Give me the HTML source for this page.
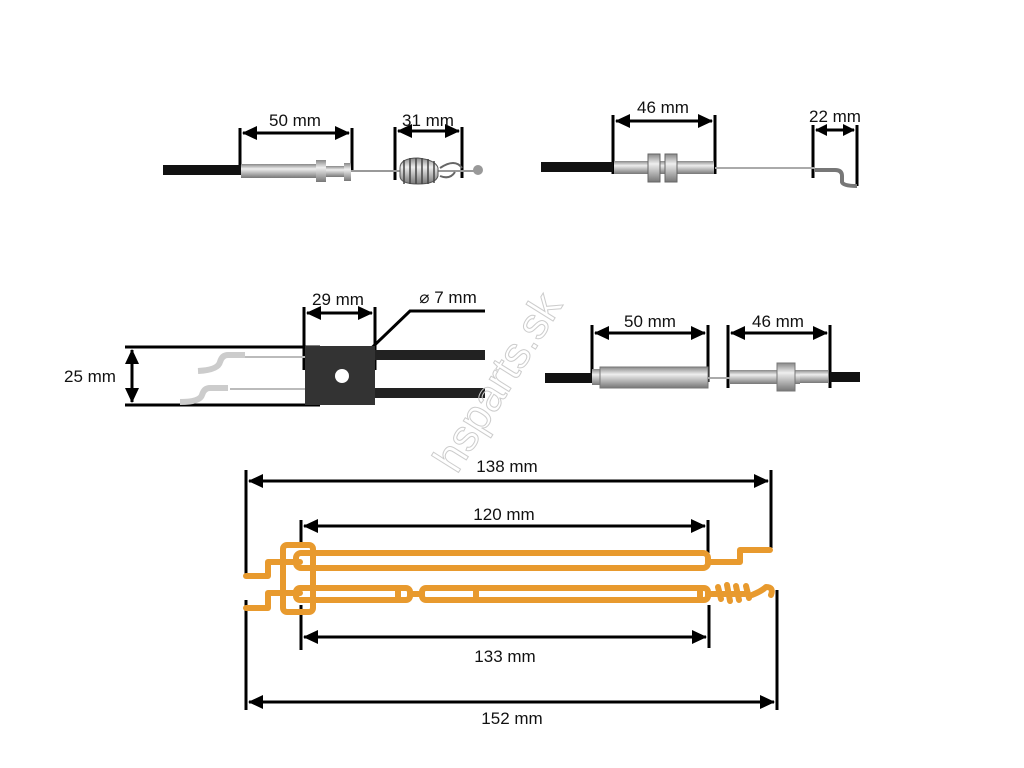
<!DOCTYPE html>
<html><head><meta charset="utf-8"><style>html,body{margin:0;padding:0;background:#fff}svg{display:block}text{font-family:"Liberation Sans",sans-serif;font-size:17px;fill:#111}</style></head>
<body>
<svg width="1024" height="768" viewBox="0 0 1024 768" xmlns="http://www.w3.org/2000/svg">
<defs>
<linearGradient id="m" x1="0" y1="0" x2="0" y2="1"><stop offset="0" stop-color="#888"/><stop offset=".35" stop-color="#eee"/><stop offset="1" stop-color="#777"/></linearGradient>
</defs>
<g stroke="#000" stroke-width="3" fill="none">
<path d="M240,128V172M352,128V172M395,127V180M462,127V178"/>
<path d="M243,133H349M398,131H459"/>
<path d="M613,115V174M715,115V174M813,125V178M857,125V186"/>
<path d="M616,121H712M816,130H854"/>
<path d="M125,347H320M125,405H320"/>
<path d="M132,350V402"/>
<path d="M304,307V370M375,307V370"/>
<path d="M307,313H372"/>
<path d="M485,311H410L356,363"/>
<path d="M592,325V382M708,325V382M728,325V388M830,325V388"/>
<path d="M595,333H705M731,333H827"/>
<path d="M246,470V578M771,470V548M246,600V710M777,590V710M301,520V548M708,520V553M301,605V650M709,605V648"/>
<path d="M249,481H768M304,526H705M304,637H706M249,702H774"/>
</g>
<g fill="#000">
<path d="M242,133l15,-7v14z M350,133l-15,-7v14z"/>
<path d="M397,131l15,-7v14z M460,131l-15,-7v14z"/>
<path d="M615,121l15,-7v14z M713,121l-15,-7v14z"/>
<path d="M815,130l12,-6v12z M855,130l-12,-6v12z"/>
<path d="M132,349l-7,15h14z M132,403l-7,-15h14z"/>
<path d="M306,313l15,-7v14z M373,313l-15,-7v14z"/>
<path d="M350,369l4,-16l10,10z"/>
<path d="M594,333l15,-7v14z M706,333l-15,-7v14z"/>
<path d="M730,333l15,-7v14z M828,333l-15,-7v14z"/>
<path d="M248,481l15,-7v14z M769,481l-15,-7v14z"/>
<path d="M303,526l15,-7v14z M706,526l-15,-7v14z"/>
<path d="M303,637l15,-7v14z M707,637l-15,-7v14z"/>
<path d="M248,702l15,-7v14z M775,702l-15,-7v14z"/>
</g>
<text x="295" y="126" text-anchor="middle">50 mm</text>
<text x="428" y="126" text-anchor="middle">31 mm</text>
<text x="663" y="113" text-anchor="middle">46 mm</text>
<text x="835" y="122" text-anchor="middle">22 mm</text>
<!-- cable 1 -->
<rect x="163" y="165" width="78" height="10" fill="#111"/>
<rect x="241" y="164" width="78" height="14" fill="url(#m)"/>
<rect x="316" y="160" width="10" height="22" fill="url(#m)"/>
<rect x="326" y="166" width="20" height="11" fill="url(#m)"/>
<rect x="344" y="163" width="7" height="18" fill="url(#m)"/>
<line x1="351" y1="171" x2="478" y2="171" stroke="#999" stroke-width="2"/>
<path d="M400,168 Q400,158 418,158 Q436,160 438,168 L438,176 Q436,184 418,184 Q400,184 400,176z" fill="url(#m)" stroke="#555"/>
<path d="M404,160v24M410,158v26M416,158v26M422,158v26M428,159v25M434,161v22" stroke="#444" stroke-width="1.5"/>
<path d="M440,168 Q455,158 462,168 M440,176 Q450,180 455,172" stroke="#666" stroke-width="2" fill="none"/>
<circle cx="478" cy="170" r="5" fill="#999"/>
<!-- cable 2 -->
<rect x="541" y="162" width="72" height="10" fill="#111"/>
<rect x="614" y="161" width="100" height="13" fill="url(#m)"/>
<rect x="648" y="154" width="12" height="28" fill="url(#m)" stroke="#666"/>
<rect x="665" y="154" width="12" height="28" fill="url(#m)" stroke="#666"/>
<line x1="715" y1="168" x2="815" y2="168" stroke="#aaa" stroke-width="2"/>
<path d="M815,170H835Q842,170 842,176V182Q843,186 857,186" stroke="#777" stroke-width="4" fill="none"/>
<!-- middle left -->
<text x="90" y="382" text-anchor="middle">25 mm</text>
<text x="338" y="305" text-anchor="middle">29 mm</text>
<text x="448" y="303" text-anchor="middle">⌀ 7 mm</text>
<rect x="375" y="350" width="110" height="10" fill="#222"/>
<rect x="375" y="388" width="110" height="10" fill="#222"/>
<rect x="305" y="346" width="70" height="59" fill="#333"/>
<circle cx="342" cy="376" r="7" fill="#fff"/>
<g stroke="#bbb" stroke-width="2" fill="none">
<path d="M245,357H305M230,389H305"/>
<path d="M245,355H228Q222,355 220,362Q218,370 198,371" stroke-width="6" stroke="#ccc"/>
<path d="M228,388H210Q204,388 202,395Q200,402 180,402" stroke-width="6" stroke="#ccc"/>
</g>
<!-- middle right -->
<text x="650" y="327" text-anchor="middle">50 mm</text>
<text x="778" y="327" text-anchor="middle">46 mm</text>
<rect x="545" y="373" width="50" height="10" fill="#111"/>
<rect x="592" y="369" width="9" height="16" fill="url(#m)"/>
<rect x="600" y="367" width="108" height="21" fill="url(#m)" stroke="#777"/>
<line x1="708" y1="378" x2="730" y2="378" stroke="#aaa" stroke-width="2"/>
<rect x="730" y="370" width="70" height="14" fill="url(#m)"/>
<rect x="777" y="363" width="18" height="28" fill="url(#m)" stroke="#777"/>
<rect x="800" y="370" width="28" height="13" fill="url(#m)"/>
<rect x="830" y="372" width="30" height="10" fill="#111"/>
<!-- watermark -->
<text x="510" y="390" transform="rotate(-58 510 390)" text-anchor="middle" style="font-size:44px;fill:none;stroke:#ccc;stroke-width:1">hsparts.sk</text>
<!-- bottom -->
<text x="507" y="472" text-anchor="middle">138 mm</text>
<text x="504" y="520" text-anchor="middle">120 mm</text>
<text x="505" y="662" text-anchor="middle">133 mm</text>
<text x="512" y="724" text-anchor="middle">152 mm</text>
<g stroke="#e89a2e" stroke-width="6" fill="none" stroke-linejoin="round" stroke-linecap="round">
<rect x="283" y="545" width="30" height="67" rx="4"/>
<rect x="296" y="553" width="412" height="15" rx="5"/>
<rect x="296" y="588" width="114" height="12" rx="4"/>
<rect x="422" y="588" width="286" height="12" rx="4"/>
<path d="M410,594H422M476,588V600M398,588V600M700,588V600"/>
<path d="M246,576H268V562H300M246,608H268V593H300"/>
<path d="M710,562H740V550H770"/>
<path d="M710,594H745M718,587l3,12M727,585l3,16M736,586l3,14M746,586l3,12M752,595q10,-4 14,-8q8,0 5,8"/>
</g>
</svg>
</body></html>
